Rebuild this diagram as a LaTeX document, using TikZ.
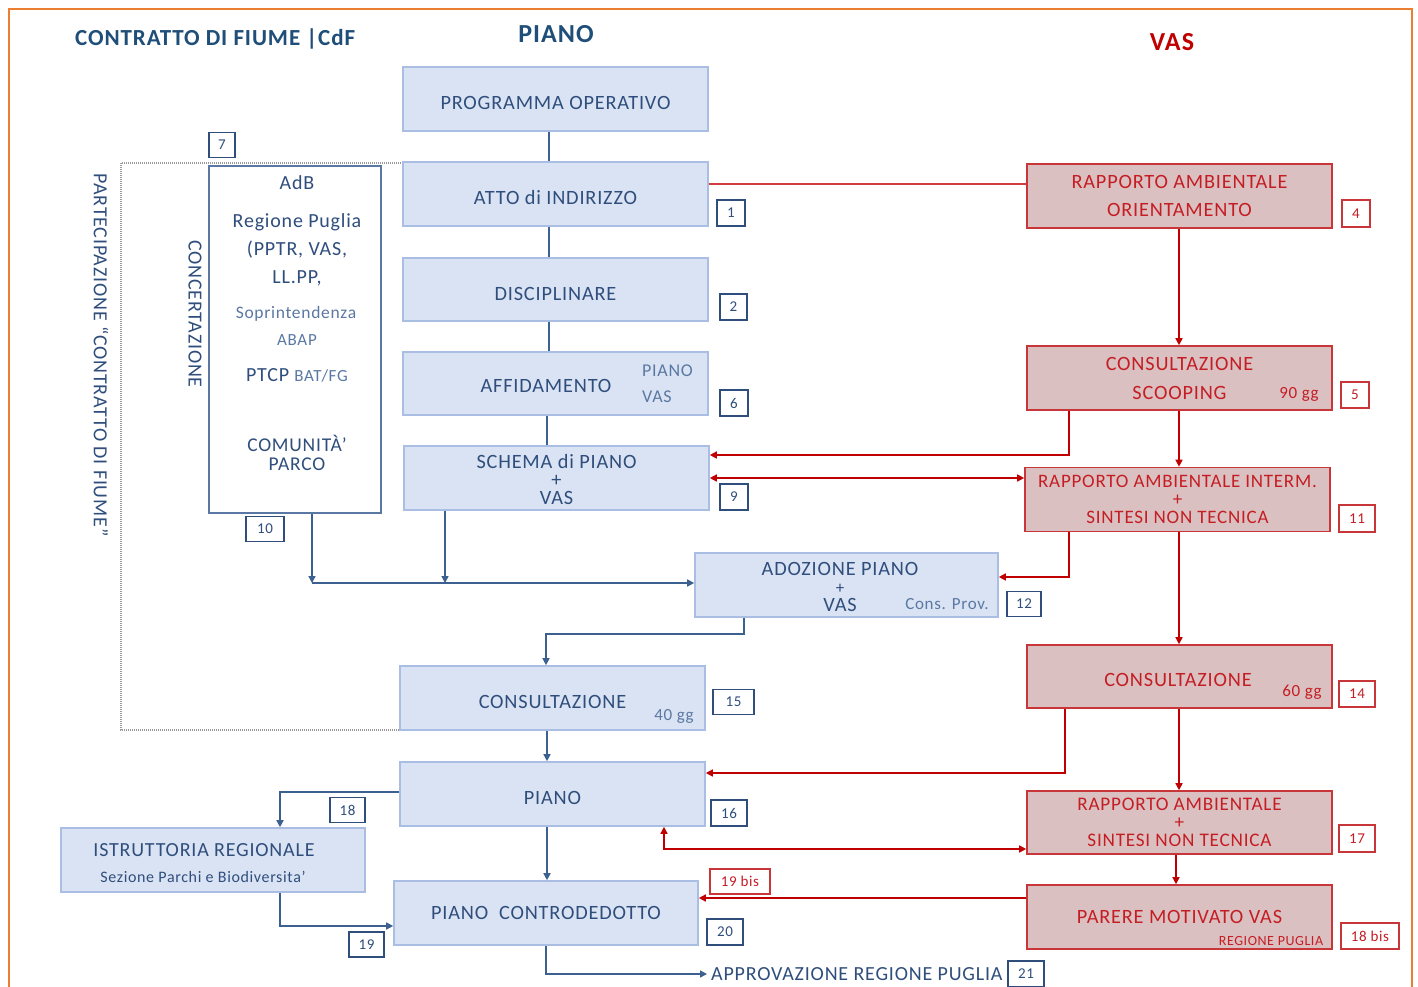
\documentclass[tikz,border=0pt]{standalone}
\usepackage{fontspec}
\setmainfont{Carlito}[LetterSpace=4]
\usetikzlibrary{arrows.meta}
\definecolor{frameorange}{HTML}{ED7D31}
\definecolor{bluetxt}{HTML}{2F4E7C}
\definecolor{titleblue}{HTML}{1F4E79}
\definecolor{softblue}{HTML}{5A78A3}
\definecolor{boxfill}{HTML}{DAE3F3}
\definecolor{boxdraw}{HTML}{A9BEE2}
\definecolor{blueline}{HTML}{3C6090}
\definecolor{redfill}{HTML}{DBC0C1}
\definecolor{reddraw}{HTML}{C8363A}
\definecolor{redtxt}{HTML}{C41E24}
\definecolor{redline}{HTML}{C00000}
\definecolor{thinred}{HTML}{D23C40}
\definecolor{dotgray}{HTML}{9A9A9A}
\newcommand{\fs}[2]{\fontsize{#1}{#2}\selectfont}
\begin{document}
\begin{tikzpicture}[x=1pt,y=-1pt,
  bbox/.style={draw=boxdraw, fill=boxfill, line width=1.6pt, minimum width=305pt,
    minimum height=64pt, inner sep=0pt, text=bluetxt, font=\fs{20.3}{18}, align=center},
  rbox/.style={draw=reddraw, fill=redfill, line width=1.6pt, minimum width=305pt,
    minimum height=64pt, inner sep=0pt, text=redtxt, font=\fs{20.3}{18}, align=center},
  lowtxt/.style={text height=21pt, text depth=0pt},
  num/.style={draw=bluetxt, fill=white, line width=1.1pt, text=bluetxt, font=\fs{15}{15},
    minimum height=25pt, minimum width=27pt, inner sep=0pt},
  rnum/.style={num, draw=reddraw, text=redtxt},
  btxt/.style={text=bluetxt, inner sep=0pt},
  rtxt/.style={text=redtxt, inner sep=0pt},
  tip/.tip={Triangle[length=7pt,width=7pt]},
  bl/.style={draw=blueline, line width=1.5pt},
  rl/.style={draw=redline, line width=1.5pt}]
\useasboundingbox (0,0) rectangle (1418,987);
\fill[white] (0,0) rectangle (1418,987);
% outer frame
\draw[frameorange, line width=2.2pt] (9,990) -- (9,9) -- (1412,9) -- (1412,990);

% column headings
\node[text=titleblue, font=\bfseries\fs{23}{23}, anchor=west, inner sep=0pt] (hcdf) at (75,39) {CONTRATTO DI FIUME |CdF};
\node[text=titleblue, font=\bfseries\fs{26}{26}, inner sep=0pt] (hpiano) at (556,34) {PIANO};
\node[text=redline, font=\bfseries\fs{26}{26}, inner sep=0pt] (hvas) at (1172,42) {VAS};

% guide coordinates for connector columns and rows
\coordinate (x280) at (280,0);  \coordinate (x312) at (312,0);
\coordinate (x445) at (445,0);  \coordinate (x546) at (546,0);
\coordinate (x547) at (547,0);  \coordinate (x549) at (549,0);
\coordinate (x664) at (664,0);  \coordinate (x744) at (744,0);
\coordinate (x1065) at (1065,0); \coordinate (x1069) at (1069,0);
\coordinate (x1176) at (1176,0); \coordinate (x1179) at (1179,0);
\coordinate (y184) at (0,184); \coordinate (y455) at (0,455);
\coordinate (y478) at (0,478); \coordinate (y577) at (0,577);
\coordinate (y773) at (0,773); \coordinate (y849) at (0,849);
\coordinate (y898) at (0,898); \coordinate (y926) at (0,926);
\coordinate (j0) at (312,583); \coordinate (j1) at (445,583);

% participation area (dotted)
\draw[dotgray, line width=1.3pt, dash pattern=on 1pt off 1pt] (403,163) -- (121,163) -- (121,730) -- (400,730);
\node[btxt, rotate=-90, font=\fs{20}{20}] (part) at (101,355) {PARTECIPAZIONE “CONTRATTO DI FIUME”};
\node[btxt, rotate=-90, font=\fs{20}{20}] (conc) at (195,314) {CONCERTAZIONE};

% concertation box
\node[draw=softblue, fill=white, line width=1.5pt, minimum width=172pt, minimum height=347pt, inner sep=0pt] (adb) at (295,339.5) {};
\node[btxt, font=\fs{20}{20}] (t1) at (297,183) {AdB};
\node[btxt, font=\fs{20}{20}] (t2) at (297,222) {Regione Puglia};
\node[btxt, font=\fs{20}{20}] (t3) at (297,250) {(PPTR, VAS,};
\node[btxt, font=\fs{20}{20}] (t4) at (297,278) {LL.PP,};
\node[text=softblue, inner sep=0pt, font=\fs{17.5}{17.5}] (t5) at (296,314) {Soprintendenza};
\node[text=softblue, inner sep=0pt, font=\fs{17}{17}] (t6) at (297,340) {ABAP};
\node[btxt, font=\fs{20}{20}] (t7) at (297,375) {PTCP {\color{softblue}\fs{17}{17}BAT/FG}};
\node[btxt, font=\fs{19.5}{19}, align=center] (t8) at (297,453) {COMUNITÀ’\\PARCO};

% plan column
\node[bbox, lowtxt] (po) at (555.5,99) {PROGRAMMA OPERATIVO};
\node[bbox, lowtxt] (atto) at (555.5,194) {ATTO di INDIRIZZO};
\node[bbox, lowtxt, minimum height=63pt] (disc) at (555.5,289.5) {DISCIPLINARE};
\node[bbox, minimum height=63pt] (aff) at (555.5,383.5) {};
\node[btxt, font=\fs{20.3}{20}] (affT) at (546,386) {AFFIDAMENTO};
\node[text=softblue, inner sep=0pt, font=\fs{18}{18}, anchor=west] (affP) at (642,371) {PIANO};
\node[text=softblue, inner sep=0pt, font=\fs{18}{18}, anchor=west] (affV) at (642,397) {VAS};
\node[bbox] (schema) at (556.5,478) {\rule{0pt}{17pt}SCHEMA di PIANO\\+\\VAS};
\node[bbox, minimum width=303pt] (adoz) at (846.5,585) {};
\node[btxt, font=\fs{20.3}{18}, align=center] (adozT) at (840,587) {ADOZIONE PIANO\\{\fs{17}{18}+}\\VAS};
\node[text=softblue, inner sep=0pt, font=\fs{17}{17}] (cprov) at (947,604) {Cons. Prov.};
\node[bbox, lowtxt] (cons) at (552.5,698) {CONSULTAZIONE};
\node[text=softblue, inner sep=0pt, font=\fs{17}{17}] (g40) at (674,716) {40 gg};
\node[bbox, lowtxt] (piano) at (552.5,794) {PIANO};
\node[bbox, minimum width=304pt] (istr) at (213,860) {};
\node[btxt, font=\fs{20}{20}] (istrA) at (204,850) {ISTRUTTORIA REGIONALE};
\node[btxt, font=\fs{16}{16}] (istrB) at (203,877) {Sezione Parchi e Biodiversita’};
\node[bbox, minimum width=304pt] (contro) at (546,913) {PIANO \ CONTRODEDOTTO};
\node[btxt, font=\fs{20}{20}, anchor=west, inner xsep=4pt] (appr) at (707,974) {APPROVAZIONE REGIONE PUGLIA};

% VAS column
\node[rbox, font=\fs{20.3}{28}] (rao) at (1179.5,196) {RAPPORTO AMBIENTALE\\ORIENTAMENTO};
\node[rbox, font=\fs{20.3}{29}] (scoop) at (1179.5,378) {CONSULTAZIONE\\SCOOPING};
\node[rtxt, font=\fs{17}{17}] (g90) at (1299,394) {90 gg};
\node[rbox, font=\fs{19}{18}] (rai) at (1177.5,499.5) {RAPPORTO AMBIENTALE INTERM.\\+\\SINTESI NON TECNICA};
\node[rbox, minimum height=63pt] (cons60) at (1179.5,676.5) {};
\node[rtxt, font=\fs{20.3}{20}] (c60T) at (1178,680) {CONSULTAZIONE};
\node[rtxt, font=\fs{17}{17}] (g60) at (1302,692) {60 gg};
\node[rbox, font=\fs{19.2}{18}, minimum height=63pt] (ra17) at (1179.5,822.5) {RAPPORTO AMBIENTALE\\+\\SINTESI NON TECNICA};
\node[rbox] (parere) at (1179.5,917) {PARERE MOTIVATO VAS};
\node[rtxt, font=\fs{14}{14}] (regp) at (1271,941) {REGIONE PUGLIA};

% step numbers
\node[num, minimum width=26pt] (n7) at (222,145) {7};
\node[num, minimum width=28pt, minimum height=26pt] (n1) at (731,213) {1};
\node[num, minimum height=26pt] (n2) at (733.5,307) {2};
\node[num, minimum width=28pt, minimum height=26pt] (n6) at (734,403) {6};
\node[num, minimum width=28pt, minimum height=26pt] (n9) at (734,497) {9};
\node[num, minimum width=38pt] (n10) at (265,529) {10};
\node[num, minimum width=34pt] (n12) at (1024,604) {12};
\node[num, minimum width=41pt] (n15) at (733.5,702) {15};
\node[num, minimum width=36pt, minimum height=26pt] (n16) at (729,813) {16};
\node[num, minimum width=35pt] (n18) at (347.5,810) {18};
\node[num, minimum width=35pt] (n19) at (366.5,944.5) {19};
\node[num, minimum width=36pt, minimum height=26pt] (n20) at (725,932) {20};
\node[num, minimum width=36pt, minimum height=26pt] (n21) at (1026,974) {21};
\node[rnum, minimum width=28pt, minimum height=27pt] (n4) at (1356,213.5) {4};
\node[rnum, minimum width=28pt, minimum height=26pt] (n5) at (1355,395) {5};
\node[rnum, minimum width=36pt, minimum height=27pt] (n11) at (1357,518.5) {11};
\node[rnum, minimum width=36pt, minimum height=26pt] (n14) at (1357,694) {14};
\node[rnum, minimum width=36pt, minimum height=27pt] (n17) at (1357,838.5) {17};
\node[rnum, minimum width=58pt, minimum height=26pt] (n18b) at (1370,936) {18 bis};
\node[rnum, minimum width=60pt] (n19b) at (740,881.5) {19 bis};

% plan column connectors
\draw[bl] (po.south -| x549) -- (atto.north -| x549);
\draw[bl] (atto.south -| x549) -- (disc.north -| x549);
\draw[bl] (disc.south -| x549) -- (aff.north -| x549);
\draw[bl] (aff.south -| x547) -- (schema.north -| x547);
\draw[bl, -tip] (schema.south -| x445) -- (j1);
\draw[bl, -tip] (adb.south -| x312) -- (j0);
\draw[bl, -tip] (j0) -- (adoz.west |- j0);
\draw[bl, -tip] (adoz.south -| x744) -- ++(0,16) -| (cons.north -| x546);
\draw[bl, -tip] (cons.south -| x547) -- (piano.north -| x547);
\draw[bl, -tip] (piano.south -| x547) -- (contro.north -| x547);
\draw[bl, -tip] ([yshift=2pt]piano.west) -| (istr.north -| x280);
\draw[bl, -tip] (istr.south -| x280) |- (contro.west |- y926);
\draw[bl, -tip] (contro.south -| x546) |- (appr.west);

% VAS column connectors
\draw[thinred, line width=1.3pt] (atto.east |- y184) -- (rao.west |- y184);
\draw[rl, -tip] (rao.south -| x1179) -- (scoop.north -| x1179);
\draw[rl, -tip] (scoop.south -| x1069) |- (schema.east |- y455);
\draw[rl, -tip] (scoop.south -| x1179) -- (rai.north -| x1179);
\draw[rl, tip-tip] (schema.east |- y478) -- (rai.west |- y478);
\draw[rl, -tip] (rai.south -| x1069) |- (adoz.east |- y577);
\draw[rl, -tip] (rai.south -| x1179) -- (cons60.north -| x1179);
\draw[rl, -tip] (cons60.south -| x1065) |- (piano.east |- y773);
\draw[rl, -tip] (cons60.south -| x1179) -- (ra17.north -| x1179);
\draw[rl, tip-tip] (piano.south -| x664) |- (ra17.west |- y849);
\draw[rl, -tip] (ra17.south -| x1176) -- (parere.north -| x1176);
\draw[rl, -tip] (parere.west |- y898) -- (contro.east |- y898);
\end{tikzpicture}
\end{document}
